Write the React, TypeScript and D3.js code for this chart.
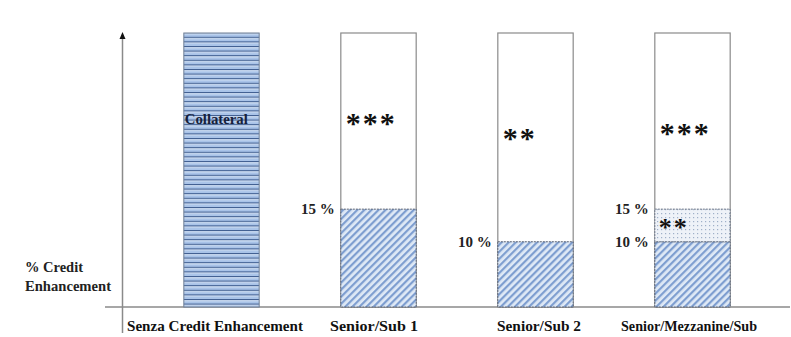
import React from "react";
import * as d3 from "d3";

const categories = ["Senza Credit Enhancement", "Senior/Sub 1", "Senior/Sub 2", "Senior/Mezzanine/Sub"];
const totalLevel = [42, 42, 42, 42];
const subordinateLevel = [0, 15, 10, 10];
const mezzanineLevel = [0, 0, 0, 5];
const seniorStars = ["", "***", "**", "***"];
const mezzStars = ["", "", "", "**"];
const starOffsets = [0, 0, 15, 10];

const W = 791;
const H = 337;

export default function App() {
  const x = d3.scaleBand<string>().domain(categories).range([143, 771]).paddingInner(0.52).paddingOuter(0.26);
  const y = d3.scaleLinear().domain([0, 42]).range([307, 33]);
  const bw = x.bandwidth();
  const serif = "Liberation Serif";
  const labelSpans: [number, number][] = [[127, 303], [330, 418], [497, 581], [621, 757]];

  return (
    <svg width={W} height={H} style={{ position: "absolute", left: 0, top: 0, background: "#fff" }}>
      <defs>
        <pattern id="hstripe" width="6" height="4.6" patternUnits="userSpaceOnUse">
          <rect width="6" height="4.6" fill="#a9c3e8" />
          <rect y="0" width="6" height="1.2" fill="#3d5c8f" />
          <rect y="1.2" width="6" height="1" fill="#dbe7f6" />
        </pattern>
        <pattern id="diag" width="5" height="5" patternUnits="userSpaceOnUse" patternTransform="rotate(45)">
          <rect width="5" height="5" fill="#dfe9f6" />
          <rect width="2.2" height="5" fill="#7e9ed0" />
        </pattern>
        <pattern id="dots" width="4" height="4" patternUnits="userSpaceOnUse">
          <rect width="4" height="4" fill="#eef2f8" />
          <rect x="1" y="1" width="1.2" height="1.2" fill="#9fb0c8" />
        </pattern>
      </defs>

      {/* axes */}
      <line x1={105} x2={790} y1={y(0)} y2={y(0)} stroke="#8a8a8a" strokeWidth={1.3} />
      <line x1={122.5} x2={122.5} y1={38} y2={333} stroke="#8a8a8a" strokeWidth={1.5} />
      <path d="M119.5,39 L122.5,32 L125.5,39 Z" fill="#111" />

      {categories.map((c, i) => {
        const x0 = x(c)!;
        const sub = subordinateLevel[i];
        const mez = mezzanineLevel[i];
        const [l0, l1] = labelSpans[i];
        return (
          <g key={c}>
            {i === 0 ? (
              <rect x={x0} y={y(totalLevel[i])} width={bw} height={y(0) - y(totalLevel[i])} fill="url(#hstripe)" stroke="#6f7f95" strokeWidth={1} />
            ) : (
              <rect x={x0} y={y(totalLevel[i])} width={bw} height={y(0) - y(totalLevel[i])} fill="#fff" stroke="#8a8a8a" strokeWidth={1.2} />
            )}
            {sub > 0 && (
              <rect x={x0} y={y(sub)} width={bw} height={y(0) - y(sub)} fill="url(#diag)" stroke="#5a6272" strokeWidth={1} strokeDasharray="2,1" />
            )}
            {mez > 0 && (
              <rect x={x0} y={y(sub + mez)} width={bw} height={y(sub) - y(sub + mez)} fill="url(#dots)" stroke="#6a7486" strokeWidth={1} strokeDasharray="2,1" />
            )}
            {sub > 0 && (
              <text x={x0 - 6} y={y(sub) + 5} textAnchor="end" fontFamily={serif} fontWeight="bold" fontSize={15} fill="#222">
                {`${sub} %`}
              </text>
            )}
            {mez > 0 && (
              <text x={x0 - 6} y={y(sub + mez) + 5} textAnchor="end" fontFamily={serif} fontWeight="bold" fontSize={15} fill="#222">
                {`${sub + mez} %`}
              </text>
            )}
            {seniorStars[i] && (
              <text x={x0 + 5} y={y(totalLevel[i]) + 100 + starOffsets[i]} fontFamily={serif} fontWeight="bold" fontSize={30} letterSpacing={2} fill="#111">
                {seniorStars[i]}
              </text>
            )}
            {mezzStars[i] && (
              <text x={x0 + 4} y={y(sub) - 6} fontFamily={serif} fontWeight="bold" fontSize={26} letterSpacing={2} fill="#111">
                {mezzStars[i]}
              </text>
            )}
            {i === 0 && (
              <text x={x0 + 1} y={124} fontFamily={serif} fontWeight="bold" fontSize={15} fill="#16213a" textLength={63} lengthAdjust="spacingAndGlyphs">
                Collateral
              </text>
            )}
            <text x={l0} y={331} fontFamily={serif} fontWeight="bold" fontSize={15} fill="#111" textLength={l1 - l0} lengthAdjust="spacingAndGlyphs">
              {c}
            </text>
          </g>
        );
      })}

      <text x={25} y={272} fontFamily={serif} fontWeight="bold" fontSize={15} fill="#222" textLength={58} lengthAdjust="spacingAndGlyphs">% Credit</text>
      <text x={25} y={291} fontFamily={serif} fontWeight="bold" fontSize={15} fill="#222" textLength={86} lengthAdjust="spacingAndGlyphs">Enhancement</text>
    </svg>
  );
}
